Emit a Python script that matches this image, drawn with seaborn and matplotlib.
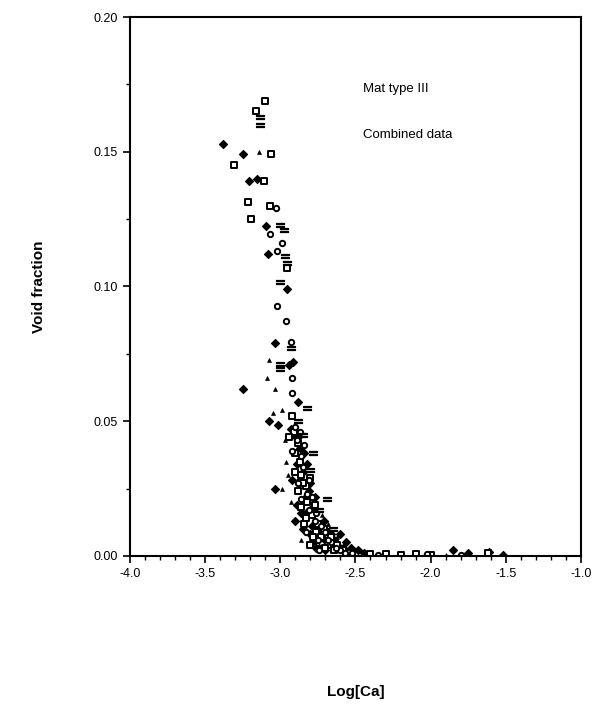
import matplotlib
matplotlib.use("Agg")
import matplotlib.pyplot as plt
import seaborn as sns
import pandas as pd
import numpy as np
from matplotlib.ticker import MultipleLocator, FormatStrFormatter

# Mat type III, combined data: log capillary number vs void fraction
# filled diamonds
diam_x = [-3.38, -3.25, -3.21, -3.155, -3.096, -3.08, -2.956, -3.036, -2.916, -2.943,
          -3.25, -2.883, -3.076, -3.016, -2.91, -2.87, -2.89, -2.85, -3.036, -2.80,
          -2.84, -2.78, -2.90, -2.76, -2.72, -2.80, -2.70, -2.66, -2.62, -2.58,
          -2.484, -2.44, -1.85, -1.75, -1.61, -1.52, -2.78, -2.74, -2.86, -2.92,
          -2.93, -2.88, -2.84, -2.82, -2.87, -2.81, -2.77, -2.83, -2.79, -2.74,
          -2.71, -2.68, -2.64, -2.60, -2.56, -2.53, -2.76, -2.70, -2.85, -2.89]
diam_y = [0.153, 0.149, 0.139, 0.140, 0.1225, 0.112, 0.099, 0.079, 0.072, 0.071,
          0.062, 0.057, 0.050, 0.0487, 0.045, 0.040, 0.034, 0.031, 0.025, 0.027,
          0.021, 0.018, 0.013, 0.012, 0.010, 0.008, 0.006, 0.008, 0.004, 0.003,
          0.002, 0.001, 0.002, 0.001, 0.0015, 0.0005, 0.005, 0.003, 0.016, 0.028,
          0.047, 0.044, 0.038, 0.034, 0.028, 0.024, 0.022, 0.016, 0.011, 0.008,
          0.013, 0.009, 0.006, 0.008, 0.005, 0.003, 0.003, 0.002, 0.010, 0.019]

# open squares
sq_x = [-3.102, -3.162, -3.062, -3.309, -3.109, -3.215, -3.069, -3.195, -2.956, -2.92,
        -2.91, -2.88, -2.90, -2.87, -2.86, -2.83, -2.88, -2.82, -2.79, -2.84,
        -2.76, -2.73, -2.80, -2.68, -2.64, -2.55, -2.40, -2.30, -2.20, -2.10,
        -2.00, -1.62, -2.94, -2.90, -2.85, -2.80, -2.77, -2.86, -2.83, -2.75,
        -2.71, -2.78, -2.66, -2.62, -2.58, -2.70]
sq_y = [0.169, 0.165, 0.149, 0.145, 0.139, 0.1315, 0.130, 0.125, 0.107, 0.052,
        0.046, 0.042, 0.038, 0.035, 0.030, 0.026, 0.024, 0.020, 0.015, 0.012,
        0.009, 0.007, 0.004, 0.004, 0.002, 0.001, 0.0008, 0.0008, 0.0005, 0.0008,
        0.0005, 0.001, 0.044, 0.031, 0.027, 0.029, 0.019, 0.018, 0.014, 0.012,
        0.010, 0.007, 0.007, 0.004, 0.002, 0.003]

# open circles
circ_x = [-3.029, -3.069, -2.989, -3.023, -3.02, -2.963, -2.93, -2.923, -2.92, -2.90,
          -2.89, -2.86, -2.85, -2.82, -2.81, -2.77, -2.75, -2.70, -2.66, -2.60,
          -2.52, -2.35, -2.025, -1.80, -2.88, -2.83, -2.87, -2.84, -2.92, -2.81,
          -2.79, -2.86, -2.76, -2.73, -2.68, -2.63, -2.74, -2.57]
circ_y = [0.129, 0.1196, 0.116, 0.113, 0.0926, 0.0873, 0.0794, 0.066, 0.0606, 0.048,
          0.043, 0.037, 0.033, 0.023, 0.017, 0.013, 0.006, 0.009, 0.005, 0.002,
          0.001, 0.0005, 0.0008, 0.0005, 0.027, 0.009, 0.046, 0.041, 0.039, 0.028,
          0.022, 0.021, 0.016, 0.011, 0.006, 0.003, 0.002, 0.001]

# small filled triangles
tri_x = [-3.142, -3.076, -3.089, -3.036, -2.99, -3.049, -2.97, -2.96, -2.95, -2.99,
         -2.93, -2.86, -2.72, -2.68, -2.62, -1.90]
tri_y = [0.150, 0.0727, 0.066, 0.062, 0.054, 0.053, 0.043, 0.035, 0.030, 0.025,
         0.020, 0.006, 0.015, 0.012, 0.007, 0.0005]

# broken / dash marks
dash_x = [-3.136, -3.136, -3.003, -2.976, -2.969, -2.956, -3.003, -2.93, -3.003, -3.003,
          -2.823, -2.88, -2.78, -2.69, -2.85, -2.80, -2.74, -2.65]
dash_y = [0.163, 0.160, 0.1227, 0.121, 0.1112, 0.1087, 0.1017, 0.0773, 0.0713, 0.0695,
          0.055, 0.050, 0.038, 0.021, 0.045, 0.032, 0.017, 0.010]

sns.set_style("ticks")
plt.rcParams["font.family"] = ["Liberation Sans", "DejaVu Sans"]
plt.rcParams.update({"text.color": "black", "axes.labelcolor": "black",
                     "xtick.color": "black", "ytick.color": "black"})

fig = plt.figure(figsize=(6.04, 7.09), dpi=100)
ax = fig.add_axes([0.215, 0.216, 0.747, 0.760])

sns.scatterplot(x=diam_x, y=diam_y, marker="D", s=17, color="black",
                edgecolor="black", linewidth=0.8, ax=ax)
sns.scatterplot(x=sq_x, y=sq_y, marker="s", s=18, facecolor="white",
                edgecolor="black", linewidth=1.4, ax=ax)
sns.scatterplot(x=circ_x, y=circ_y, marker="o", s=15, facecolor="white",
                edgecolor="black", linewidth=1.4, ax=ax)
sns.scatterplot(x=tri_x, y=tri_y, marker="^", s=8, color="black",
                edgecolor="black", linewidth=0.5, ax=ax)
sns.scatterplot(x=dash_x, y=dash_y, marker="$=$", s=30, color="black",
                edgecolor="black", linewidth=0.9, ax=ax)

ax.set_xlim(-4.0, -1.0)
ax.set_ylim(0.0, 0.20)
ax.xaxis.set_major_locator(MultipleLocator(0.5))
ax.xaxis.set_minor_locator(MultipleLocator(0.1))
ax.yaxis.set_major_locator(MultipleLocator(0.05))
ax.yaxis.set_minor_locator(MultipleLocator(0.025))
ax.xaxis.set_major_formatter(FormatStrFormatter("%.1f"))
ax.yaxis.set_major_formatter(FormatStrFormatter("%.2f"))
ax.tick_params(axis="both", which="major", direction="out", length=5, width=1.2,
               labelsize=9, colors="black")
ax.tick_params(axis="both", which="minor", direction="out", length=3, width=1.0,
               colors="black")

for sp in ax.spines.values():
    sp.set_visible(True)
    sp.set_linewidth(1.5)
    sp.set_color("black")

ax.set_xlabel("Log[Ca]", fontsize=11, fontweight="bold", labelpad=76, color="black")
ax.set_ylabel("Void fraction", fontsize=11, fontweight="bold", labelpad=34, color="black")

ax.text(0.517, 0.866, "Mat type III", transform=ax.transAxes, fontsize=9.5,
        va="center", ha="left", color="black")
ax.text(0.517, 0.781, "Combined data", transform=ax.transAxes, fontsize=9.5,
        va="center", ha="left", color="black")

fig.savefig("out.png", dpi=100, facecolor="white")
